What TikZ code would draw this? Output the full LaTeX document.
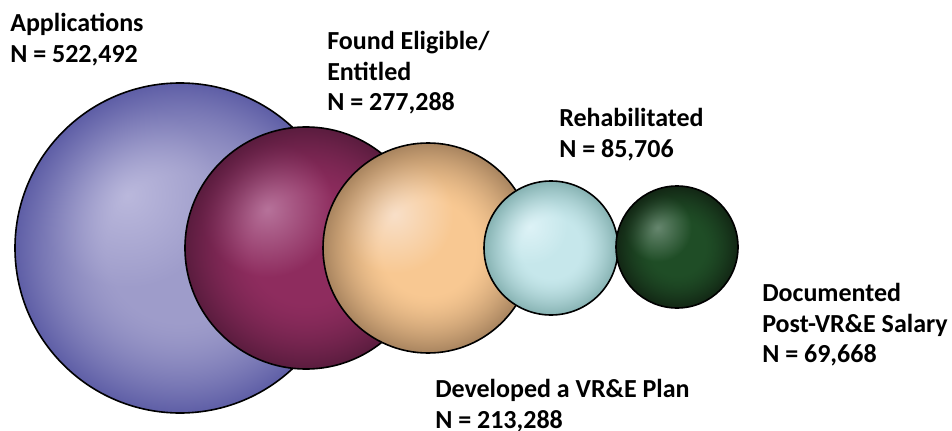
\documentclass[tikz,border=0pt]{standalone}
\usepackage{fontspec}
\setmainfont{Carlito}
\usepackage{xcolor}

\colorlet{spherehi}{white}
\colorlet{spheremid}{gray}
\colorlet{sphereedge}{black}
% highlight up left, darker rim all round (path box = -25bp..25bp)
\def\spherech#1{1 index \csname midc#1\endcsname\space\csname hic#1\endcsname\space sub mul
\csname hic#1\endcsname\space add dup \csname edgec#1\endcsname\space exch sub 2 index mul add 3 1 roll }
\pgfdeclarefunctionalshading[spherehi,spheremid,sphereedge]{sphere}{\pgfpoint{-50bp}{-50bp}}{\pgfpoint{50bp}{50bp}}{%
\pgfshadecolortorgb{spherehi}{\hic}\pgfshadecolortorgb{spheremid}{\midc}\pgfshadecolortorgb{sphereedge}{\edgec}}{%
2 copy 8 sub dup mul exch 8 add dup mul add sqrt 14 div dup 1 gt {pop 1} if
3 1 roll dup mul exch dup mul add sqrt 11 sub 14 div dup 0 lt {pop 0} if dup 1 gt {pop 1} if dup sqrt mul
\spherech{red}\spherech{green}\spherech{blue} pop pop}

\definecolor{apphi}{HTML}{BAB8DC}\definecolor{appmid}{HTML}{9E9CCA}\definecolor{appedge}{HTML}{5E5EA6}
\definecolor{elighi}{HTML}{B6729A}\definecolor{eligmid}{HTML}{8E2C5E}\definecolor{eligedge}{HTML}{5A1C3E}
\definecolor{planhi}{HTML}{F8DFC8}\definecolor{planmid}{HTML}{F8C892}\definecolor{planedge}{HTML}{A8845F}
\definecolor{rehabhi}{HTML}{DDF2F6}\definecolor{rehabmid}{HTML}{C6E7EB}\definecolor{rehabedge}{HTML}{86B2B2}
\definecolor{salhi}{HTML}{66866E}\definecolor{salmid}{HTML}{1F4D26}\definecolor{saledge}{HTML}{122614}

\tikzset{
sphere/.style n args={2}{circle,draw=black,line width=1.2pt,inner sep=0pt,minimum size=#1*1.5pt,
/utils/exec={\colorlet{spherehi}{#2hi}\colorlet{spheremid}{#2mid}\colorlet{sphereedge}{#2edge}},shading=sphere},
lbl/.style={anchor=north west,inner sep=0pt,align=left,font=\fontsize{19.5pt}{23pt}\selectfont\bfseries}
}

\begin{document}
\begin{tikzpicture}[x=0.75pt,y=-0.75pt]
\useasboundingbox(0,0)rectangle(952,431);
% circles, largest first
\foreach \nm/\r/\x/\y/\c in {apps/165/180/248/app,elig/121/306/248/elig,plan/105/428/248/plan,
rehab/67/551/248/rehab,salary/61/677/247/sal}
\node[sphere={\r}{\c}](\nm)at(\x,\y){};
% labels
\node[lbl](appslbl)at(10,13){Applications\\N = 522,492};
\node[lbl](eliglbl)at(327,31){Found Eligible/\\Entitled\\N = 277,288};
\node[lbl](rehablbl)at(559,108){Rehabilitated\\N = 85,706};
\node[lbl](salarylbl)at(762,283){Documented\\Post-VR\&E Salary\\N = 69,668};
\node[lbl](planlbl)at(435,379){Developed a VR\&E Plan\\N = 213,288};
\end{tikzpicture}
\end{document}
